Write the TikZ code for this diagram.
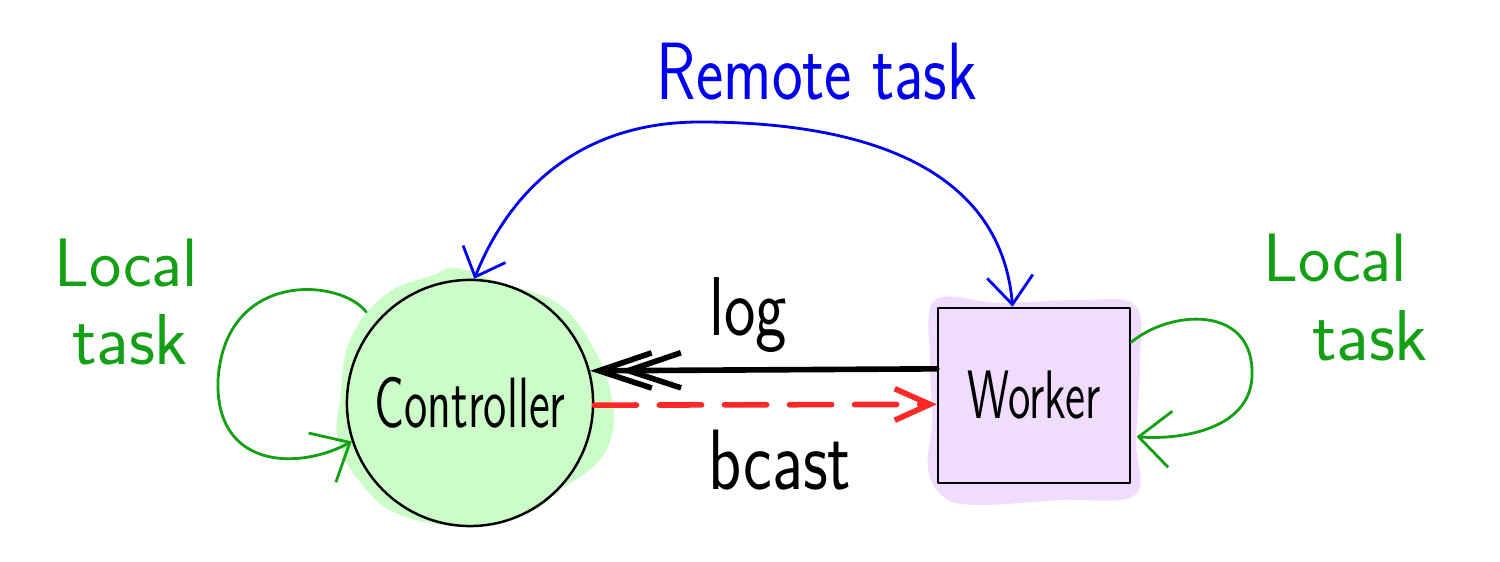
\documentclass[tikz,border=0pt]{standalone}
\usepackage{graphicx}
\usetikzlibrary{arrows.meta,calc}
\definecolor{hgreen}{RGB}{20,160,20}
\definecolor{hblue}{RGB}{0,0,240}
\definecolor{hred}{RGB}{255,40,40}
\definecolor{greenfill}{RGB}{204,252,200}
\definecolor{purplefill}{RGB}{240,220,255}
\newcommand\hw[2][1.25]{\scalebox{1}[#1]{#2}}
\begin{document}
\begin{tikzpicture}[x=0.01cm,y=-0.01cm,line cap=round,line join=round,
  lbl/.style={inner sep=0pt,font=\sffamily},
  outline/.style={draw=black,line width=0.7pt,inner sep=0pt},
  greenstroke/.style={hgreen,line width=0.8pt,-{Straight Barb[length=9pt,width=16pt]}},
  bluestroke/.style={hblue,line width=0.8pt},
  logstroke/.style={black,line width=1.6pt},
  bcaststroke/.style={hred,line width=1.6pt,dash pattern=on 12pt off 6.5pt}]
\useasboundingbox (0,0) rectangle (1500,562);
% highlighter blobs
\fill[greenfill] plot[smooth cycle,tension=0.7] coordinates {(433,275) (457,268) (500,283) (560,305) (597,355) (612,400) (612,435) (595,465) (560,490) (530,512) (470,526) (400,515) (360,482) (338,440) (340,400) (350,340) (385,295)};
\fill[purplefill] plot[smooth cycle,tension=0.6] coordinates {(935,300) (1000,303) (1080,300) (1135,305) (1140,360) (1136,440) (1135,495) (1060,500) (980,505) (945,498) (928,470) (932,420) (930,360)};
% nodes
\node[outline,circle,minimum size=2.46cm] (ctrl) at (470,403) {\fontsize{13.5}{16}\selectfont\sffamily\hw[1.5]{Controller}};
\node[outline,rectangle,minimum width=1.92cm,minimum height=1.75cm] (wkr) at (1034,395.5) {\fontsize{13}{16}\selectfont\sffamily\hw[1.5]{Worker}};
% anchor points
\coordinate (wL1) at ($(wkr.north west)!0.35!(wkr.south west)$);
\coordinate (wL2) at ($(wkr.north west)!0.55!(wkr.south west)$);
\coordinate (wT) at ($(wkr.north west)!0.39!(wkr.north east)$);
\coordinate (wR1) at ($(wkr.north east)!0.2!(wkr.south east)$);
\coordinate (wR2) at ($(wkr.north east)!0.73!(wkr.south east)$);
% connectors
\draw[logstroke,-{Straight Barb[length=15pt,width=10pt,sep=-10pt] Straight Barb[length=15pt,width=10pt]}] (wL1) -- (ctrl.15);
\draw[bcaststroke,-{Straight Barb[length=10pt,width=9pt]}] (ctrl.-1) -- (wL2);
\draw[bluestroke,{Straight Barb[length=7pt,width=13pt]}-{Straight Barb[length=8pt,width=13pt]}] (ctrl.88) .. controls (510,190) and (580,122) .. (700,122) .. controls (850,122) and (1000,160) .. (wT);
\draw[greenstroke,shorten <=4pt] (ctrl.140) .. controls (340,278) and (225,270) .. (218,380) .. controls (215,470) and (300,470) .. (ctrl.198);
\draw[greenstroke,shorten >=1.5pt] (wR1) .. controls (1170,310) and (1250,305) .. (1252,370) .. controls (1255,430) and (1180,440) .. (wR2);
% labels
\node[lbl,text=hblue,font=\fontsize{18.5}{20}\selectfont\sffamily] (remote) at (817,72) {\hw{Remote task}};
\node[lbl,font=\fontsize{19}{21}\selectfont\sffamily] (log) at (748,315) {\hw{log}};
\node[lbl,font=\fontsize{19.5}{21}\selectfont\sffamily] (bcast) at (780,460) {\hw{bcast}};
\node[lbl,text=hgreen,font=\fontsize{19.5}{21}\selectfont\sffamily] (loc1) at (126,263) {Local};
\node[lbl,text=hgreen,font=\fontsize{20.5}{21}\selectfont\sffamily] (task1) at (130,340) {task};
\node[lbl,text=hgreen,font=\fontsize{19.5}{21}\selectfont\sffamily] (loc2) at (1335,258) {Local};
\node[lbl,text=hgreen,font=\fontsize{20.5}{21}\selectfont\sffamily] (task2) at (1370,336) {task};
\end{tikzpicture}
\end{document}
